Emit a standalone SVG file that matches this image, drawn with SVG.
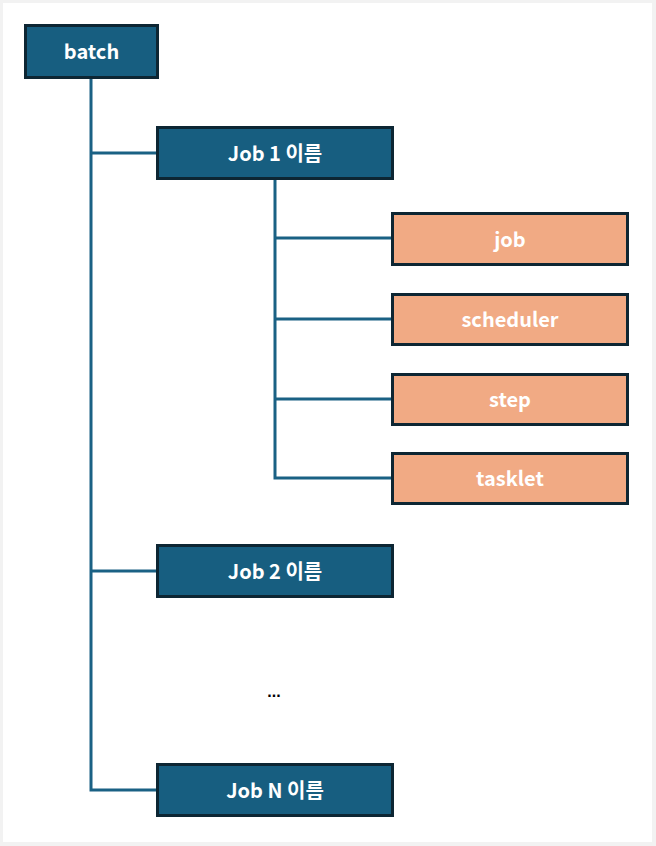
<svg xmlns="http://www.w3.org/2000/svg" width="656" height="846" viewBox="0 0 656 846">
<style>
.blue{fill:#175e80;stroke:#0d2633;stroke-width:3}
.orange{fill:#f1aa84;stroke:#0d2633;stroke-width:3}
.lbl{font-family:"Noto Sans CJK KR","Noto Sans",sans-serif;font-weight:700;font-size:20px;fill:#ffffff;text-anchor:middle;dominant-baseline:central}
.conn{stroke:#1a6184;stroke-width:3;fill:none}
</style>
<rect x="0" y="0" width="656" height="846" fill="#f2f2f2"/>
<rect x="3" y="3" width="649" height="839" fill="#ffffff"/>
<g id="connectors">
<path class="conn" d="M91 78 V790 H157"/>
<path class="conn" d="M91 153 H157"/>
<path class="conn" d="M91 571 H157"/>
<path class="conn" d="M275 179 V478 H392"/>
<path class="conn" d="M275 238 H392"/>
<path class="conn" d="M275 319 H392"/>
<path class="conn" d="M275 399 H392"/>
</g>
<g id="batch"><rect class="blue" x="25.5" y="25.5" width="132" height="52"/><text class="lbl" x="91.5" y="50">batch</text></g>
<g id="job1"><rect class="blue" x="157.5" y="127.5" width="235" height="51"/><text class="lbl" x="275" y="152">Job 1 이름</text></g>
<g id="job"><rect class="orange" x="392.5" y="213.5" width="235" height="51"/><text class="lbl" x="510" y="238">job</text></g>
<g id="scheduler"><rect class="orange" x="392.5" y="294.5" width="235" height="50"/><text class="lbl" x="510" y="318">scheduler</text></g>
<g id="step"><rect class="orange" x="392.5" y="374.5" width="235" height="50"/><text class="lbl" x="510" y="398">step</text></g>
<g id="tasklet"><rect class="orange" x="392.5" y="453.5" width="235" height="50"/><text class="lbl" x="510" y="477">tasklet</text></g>
<g id="job2"><rect class="blue" x="157.5" y="545.5" width="235" height="51"/><text class="lbl" x="275" y="570">Job 2 이름</text></g>
<g id="ellipsis"><text x="274" y="697" font-family="Liberation Sans, sans-serif" font-weight="700" font-size="16" fill="#000" text-anchor="middle">...</text></g>
<g id="jobN"><rect class="blue" x="157.5" y="764.5" width="235" height="51"/><text class="lbl" x="275" y="789">Job N 이름</text></g>
</svg>
